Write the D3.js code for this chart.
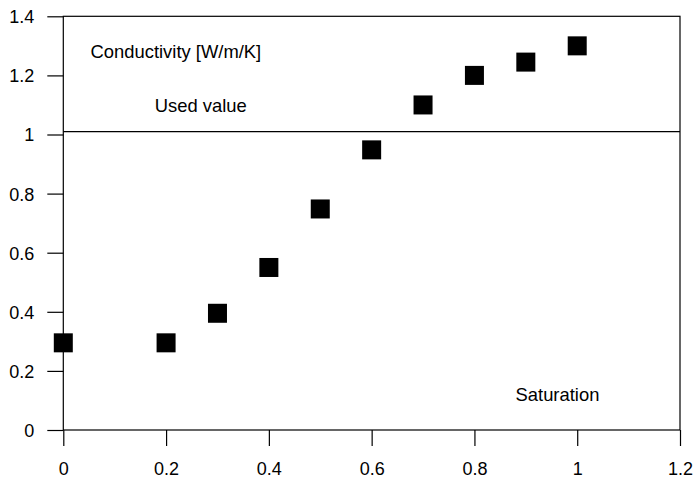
<!DOCTYPE html>
<html>
<head>
<meta charset="utf-8">
<script src="https://cdn.jsdelivr.net/npm/d3@7"></script>
<style>
  html, body { margin: 0; padding: 0; background: #fff; }
  svg { display: block; font-family: "Liberation Sans", Arial, sans-serif; }
</style>
</head>
<body>
<svg id="chart" width="694" height="479"></svg>
<script>
const saturation = [0, 0.2, 0.3, 0.4, 0.5, 0.6, 0.7, 0.8, 0.9, 1.0];
const conductivity = [0.295, 0.295, 0.395, 0.55, 0.748, 0.948, 1.10, 1.20, 1.245, 1.30];
const usedValue = 1.01;
const xTicks = [0, 0.2, 0.4, 0.6, 0.8, 1, 1.2];
const yTicks = [0, 0.2, 0.4, 0.6, 0.8, 1, 1.2, 1.4];
const labels = [
  {text: "Conductivity [W/m/K]", x: 0.053, y: 1.26},
  {text: "Used value", x: 0.178, y: 1.075},
  {text: "Saturation", x: 0.880, y: 0.097}
];

const svg = d3.select("#chart");
const L = 63.3, R = 680, T = 16.3, B = 430;
const x = d3.scaleLinear().domain([0, 1.2]).range([L, R]);
const y = d3.scaleLinear().domain([0, 1.4]).range([B, T]);

// frame
svg.append("rect").attr("x", L).attr("y", T).attr("width", R - L).attr("height", B - T)
  .attr("fill", "none").attr("stroke", "#000").attr("stroke-width", 1.2);

// axes
const xAxis = d3.axisBottom(x).tickValues(xTicks).tickSize(16).tickPadding(16)
  .tickFormat(d => d3.format("")(+d.toFixed(1)));
const gx = svg.append("g").attr("transform", `translate(0,${B})`).call(xAxis);
gx.select(".domain").remove();
gx.selectAll("line").attr("stroke", "#000").attr("stroke-width", 1.2);
gx.selectAll("text").attr("font-size", 18).attr("fill", "#000")
  .attr("font-family", "Liberation Sans, Arial, sans-serif");

const yAxis = d3.axisLeft(y).tickValues(yTicks).tickSize(16).tickPadding(13)
  .tickFormat(d => d3.format("")(+d.toFixed(1)));
const gy = svg.append("g").attr("transform", `translate(${L},0)`).call(yAxis);
gy.select(".domain").remove();
gy.selectAll("line").attr("stroke", "#000").attr("stroke-width", 1.2);
gy.selectAll("text").attr("font-size", 18).attr("fill", "#000").attr("dy", "0.36em")
  .attr("font-family", "Liberation Sans, Arial, sans-serif");

// used value line
svg.append("line").attr("x1", x(0)).attr("x2", x(1.2))
  .attr("y1", y(usedValue)).attr("y2", y(usedValue))
  .attr("stroke", "#000").attr("stroke-width", 1.2);

// points
const s = 19;
svg.append("g").selectAll("rect").data(saturation.map((d, i) => [d, conductivity[i]]))
  .join("rect")
  .attr("x", d => x(d[0]) - s / 2).attr("y", d => y(d[1]) - s / 2)
  .attr("width", s).attr("height", s).attr("fill", "#000");

// labels
svg.append("g").selectAll("text").data(labels).join("text")
  .attr("x", d => x(d.x)).attr("y", d => y(d.y))
  .attr("font-size", 18.4).attr("fill", "#000")
  .text(d => d.text);
</script>
</body>
</html>
